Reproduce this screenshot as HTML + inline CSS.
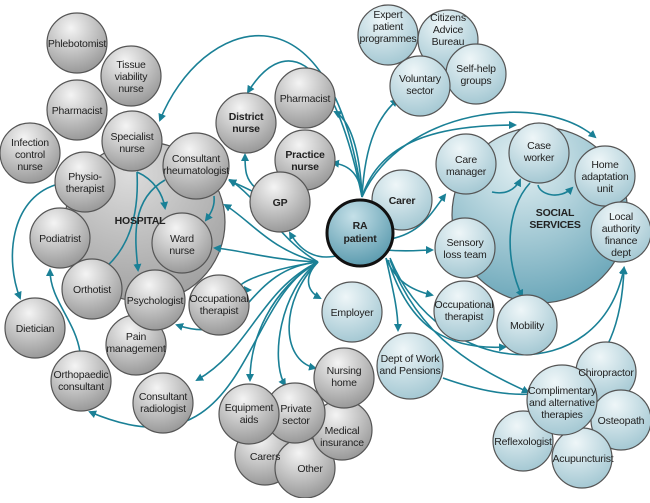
<!DOCTYPE html>
<html><head><meta charset="utf-8"><style>
body{margin:0;background:#fff}
svg text{font-family:"Liberation Sans",sans-serif;font-size:10.5px;letter-spacing:-0.2px;fill:#222;text-anchor:middle}
</style></head><body>
<svg width="650" height="498" viewBox="0 0 650 498" xmlns="http://www.w3.org/2000/svg">
<defs>
<radialGradient id="g" cx="0.4" cy="0.25" r="0.85"><stop offset="0" stop-color="#f4f4f4"/><stop offset="1" stop-color="#8e8e8e"/></radialGradient>
<radialGradient id="b" cx="0.4" cy="0.25" r="0.85"><stop offset="0" stop-color="#eef6f8"/><stop offset="1" stop-color="#9cc3cf"/></radialGradient>
<radialGradient id="bb" cx="0.4" cy="0.2" r="0.9"><stop offset="0" stop-color="#e3f0f3"/><stop offset="1" stop-color="#5e9fb3"/></radialGradient>
<radialGradient id="gb" cx="0.4" cy="0.2" r="0.9"><stop offset="0" stop-color="#dcdcdc"/><stop offset="1" stop-color="#9a9a9a"/></radialGradient>
<radialGradient id="ra" cx="0.4" cy="0.25" r="0.85"><stop offset="0" stop-color="#c5e0e8"/><stop offset="1" stop-color="#4f93a8"/></radialGradient>
<marker id="a" markerWidth="8" markerHeight="8" refX="6" refY="4" orient="auto" markerUnits="userSpaceOnUse"><path d="M0,0 L8,4 L0,8 Z" fill="#1a8096"/></marker>
</defs>
<g stroke="#555" stroke-width="1.2">
<circle cx="145" cy="222" r="80" fill="url(#gb)"/>
<circle cx="540" cy="215" r="88" fill="url(#bb)"/>
</g>
<g fill="none" stroke="#1a8096" stroke-width="1.6" marker-end="url(#a)">
<path d="M362,197 C330,-30 200,20 160,120"/>
<path d="M362,197 C330,40 280,40 248,92"/>
<path d="M362,197 C360,150 350,120 335,112"/>
<path d="M362,197 C360,175 350,165 333,163"/>
<path d="M362,197 C365,140 380,115 397,100"/>
<path d="M362,197 C380,140 440,125 515,125"/>
<path d="M362,197 C400,110 540,90 595,137"/>
<path d="M385,240 C420,235 430,215 445,195"/>
<path d="M385,250 C410,252 420,250 432,250"/>
<path d="M386,258 C395,280 410,290 432,295"/>
<path d="M386,258 C393,290 398,310 398,330"/>
<path d="M388,260 C410,330 450,350 505,347"/>
<path d="M390,258 C440,380 600,390 624,268"/>
<path d="M390,260 C420,340 480,370 528,392"/>
<path d="M443,378 C560,420 620,380 624,268"/>
<path d="M340,255 C315,262 300,250 290,233"/>
<path d="M318,262 C280,240 260,200 230,180"/>
<path d="M318,262 C270,250 250,220 225,205"/>
<path d="M318,262 C270,260 240,250 215,248"/>
<path d="M318,262 C260,270 220,290 250,290"/>
<path d="M318,262 C240,270 250,350 177,325"/>
<path d="M318,262 C260,290 250,350 197,380"/>
<path d="M318,262 C270,290 250,340 250,380"/>
<path d="M318,262 C280,290 270,360 285,385"/>
<path d="M318,262 C280,300 280,360 315,368"/>
<path d="M318,262 C305,275 305,290 320,298"/>
<path d="M318,262 C240,300 250,480 90,412"/>
<path d="M260,195 C250,190 240,185 230,181"/>
<path d="M258,190 C245,180 245,170 245,155"/>
<path d="M137,172 C140,230 120,260 93,277"/>
<path d="M137,172 C155,180 163,195 165,208"/>
<path d="M214,196 C215,205 212,212 206,220"/>
<path d="M165,180 C130,200 135,240 138,270"/>
<path d="M55,185 C10,200 5,260 20,298"/>
<path d="M80,352 C75,320 50,300 50,270"/>
<path d="M492,192 C505,195 515,190 520,180"/>
<path d="M538,185 C540,195 560,200 572,188"/>
<path d="M530,183 C505,210 505,260 522,296"/>
</g>
<g stroke="#555" stroke-width="1.2" fill="url(#g)">
<circle cx="77" cy="43" r="30"/><circle cx="131" cy="76" r="30"/><circle cx="77" cy="110" r="30"/>
<circle cx="30" cy="153" r="30"/><circle cx="132" cy="141" r="30"/><circle cx="85" cy="182" r="30"/>
<circle cx="196" cy="166" r="33"/><circle cx="60" cy="238" r="30"/><circle cx="182" cy="243" r="30"/>
<circle cx="92" cy="289" r="30"/><circle cx="136" cy="345" r="30"/><circle cx="155" cy="300" r="30"/>
<circle cx="219" cy="305" r="30"/><circle cx="35" cy="328" r="30"/><circle cx="81" cy="381" r="30"/>
<circle cx="163" cy="403" r="30"/><circle cx="246" cy="123" r="30"/><circle cx="305" cy="98" r="30"/>
<circle cx="305" cy="160" r="30"/><circle cx="280" cy="202" r="30"/>
<circle cx="265" cy="455" r="30"/><circle cx="305" cy="468" r="30"/><circle cx="342" cy="430" r="30"/>
<circle cx="344" cy="378" r="30"/><circle cx="295" cy="413" r="30"/><circle cx="249" cy="414" r="30"/>
</g>
<g stroke="#555" stroke-width="1.2" fill="url(#b)">
<circle cx="388" cy="35" r="30"/><circle cx="448" cy="40" r="30"/><circle cx="476" cy="74" r="30"/><circle cx="420" cy="86" r="30"/>
<circle cx="402" cy="200" r="30"/>
<circle cx="466" cy="164" r="30"/><circle cx="539" cy="153" r="30"/><circle cx="605" cy="176" r="30"/><circle cx="621" cy="232" r="30"/>
<circle cx="465" cy="248" r="30"/><circle cx="464" cy="311" r="30"/><circle cx="527" cy="325" r="30"/>
<circle cx="352" cy="312" r="30"/><circle cx="410" cy="366" r="33"/>
<circle cx="606" cy="372" r="30"/><circle cx="621" cy="420" r="30"/><circle cx="523" cy="441" r="30"/><circle cx="582" cy="458" r="30"/>
<circle cx="562" cy="400" r="35"/>
</g>
<circle cx="360" cy="233" r="33" fill="url(#ra)" stroke="#111" stroke-width="3"/>
<g>
<text x="77" y="47">Phlebotomist</text>
<text x="131" y="68">Tissue</text><text x="131" y="80">viability</text><text x="131" y="92">nurse</text>
<text x="77" y="114">Pharmacist</text>
<text x="30" y="146">Infection</text><text x="30" y="158">control</text><text x="30" y="170">nurse</text>
<text x="132" y="140">Specialist</text><text x="132" y="152">nurse</text>
<text x="85" y="180">Physio-</text><text x="85" y="192">therapist</text>
<text x="196" y="162">Consultant</text><text x="196" y="174">rheumatologist</text>
<text x="60" y="242">Podiatrist</text>
<text x="140" y="224" font-weight="bold">HOSPITAL</text>
<text x="182" y="242">Ward</text><text x="182" y="254">nurse</text>
<text x="92" y="293">Orthotist</text>
<text x="155" y="304">Psychologist</text>
<text x="136" y="340">Pain</text><text x="136" y="352">management</text>
<text x="219" y="302">Occupational</text><text x="219" y="314">therapist</text>
<text x="35" y="332">Dietician</text>
<text x="81" y="378">Orthopaedic</text><text x="81" y="390">consultant</text>
<text x="163" y="400">Consultant</text><text x="163" y="412">radiologist</text>
<text x="246" y="120" font-weight="bold">District</text><text x="246" y="132" font-weight="bold">nurse</text>
<text x="305" y="102">Pharmacist</text>
<text x="305" y="158" font-weight="bold">Practice</text><text x="305" y="170" font-weight="bold">nurse</text>
<text x="280" y="206" font-weight="bold">GP</text>
<text x="249" y="411">Equipment</text><text x="249" y="423">aids</text>
<text x="296" y="412">Private</text><text x="296" y="424">sector</text>
<text x="344" y="374">Nursing</text><text x="344" y="386">home</text>
<text x="342" y="434">Medical</text><text x="342" y="446">insurance</text>
<text x="265" y="460">Carers</text>
<text x="310" y="472">Other</text>
<text x="360" y="229" font-weight="bold">RA</text><text x="360" y="242" font-weight="bold">patient</text>
<text x="402" y="204" font-weight="bold">Carer</text>
<text x="388" y="18">Expert</text><text x="388" y="30">patient</text><text x="388" y="42">programmes</text>
<text x="448" y="21">Citizens</text><text x="448" y="33">Advice</text><text x="448" y="45">Bureau</text>
<text x="420" y="82">Voluntary</text><text x="420" y="94">sector</text>
<text x="476" y="72">Self-help</text><text x="476" y="84">groups</text>
<text x="466" y="163">Care</text><text x="466" y="175">manager</text>
<text x="539" y="149">Case</text><text x="539" y="161">worker</text>
<text x="605" y="168">Home</text><text x="605" y="180">adaptation</text><text x="605" y="192">unit</text>
<text x="555" y="216" font-weight="bold">SOCIAL</text><text x="555" y="228" font-weight="bold">SERVICES</text>
<text x="621" y="220">Local</text><text x="621" y="232">authority</text><text x="621" y="244">finance</text><text x="621" y="256">dept</text>
<text x="465" y="246">Sensory</text><text x="465" y="258">loss team</text>
<text x="464" y="308">Occupational</text><text x="464" y="320">therapist</text>
<text x="527" y="329">Mobility</text>
<text x="352" y="316">Employer</text>
<text x="410" y="362">Dept of Work</text><text x="410" y="374">and Pensions</text>
<text x="606" y="376">Chiropractor</text>
<text x="562" y="394">Complimentary</text><text x="562" y="406">and alternative</text><text x="562" y="418">therapies</text>
<text x="621" y="424">Osteopath</text>
<text x="523" y="445">Reflexologist</text>
<text x="583" y="462">Acupuncturist</text>
</g>
</svg>
</body></html>
